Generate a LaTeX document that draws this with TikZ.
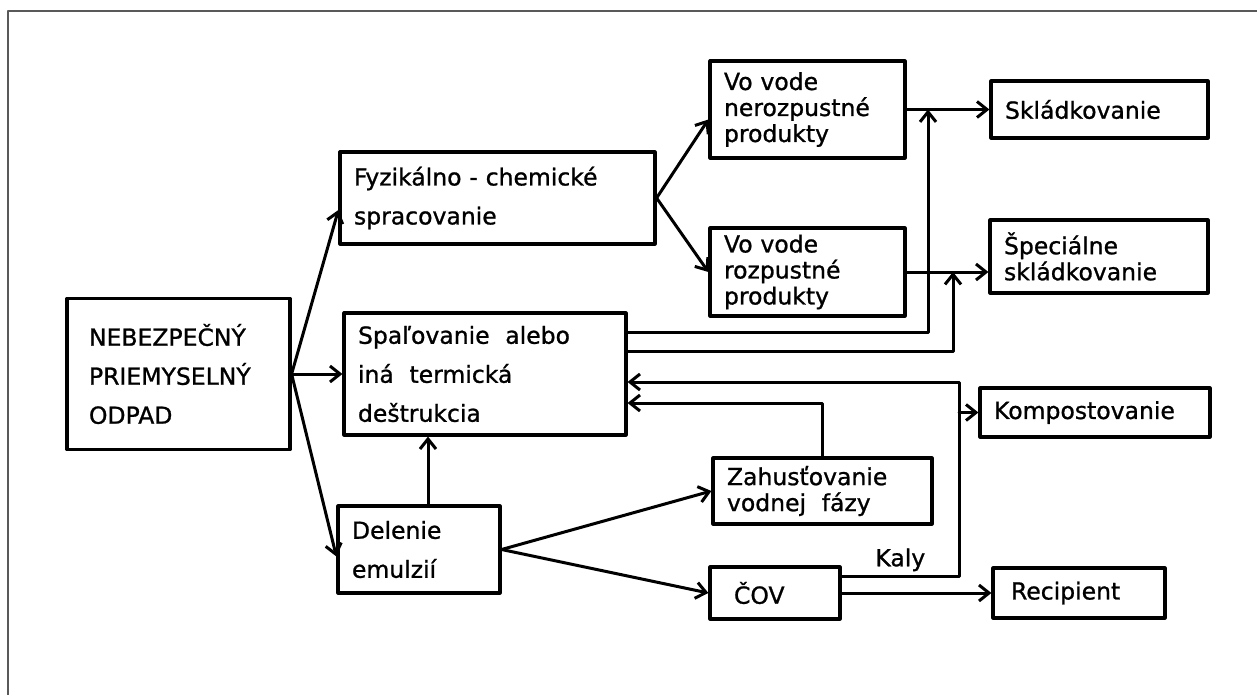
\documentclass[tikz,border=0pt]{standalone}
\usepackage{fontspec}
\setmainfont{DejaVu Sans}[FakeBold=1]
\usetikzlibrary{arrows.meta}

\begin{document}
\begin{tikzpicture}[line cap=round,line join=round,>={Straight Barb[length=10pt,width=16pt]},x=1pt,y=-1pt,
  box/.style={draw,line width=3.2pt,inner xsep=14pt,inner ysep=0pt,align=left},
  wide/.style={font=\fontsize{23.5}{39}\selectfont},
  tight/.style={font=\fontsize{23.5}{26}\selectfont},
  link/.style={line width=3pt}]
\useasboundingbox (0,0) rectangle (1257,695);
\draw [line width=1.2pt,black!65] (8,695)-- (8,11)-- (1257,11);
% boxes
\node [box,wide,inner xsep=22pt,text width=179pt,minimum height=151pt] (odpad) at (178.5,374) {NEBEZPEČNÝ\\PRIEMYSELNÝ\\ODPAD};
\node [box,wide,text width=287pt,minimum height=92pt] (fyz) at (497.5,198) {Fyzikálno - chemické\\spracovanie};
\node [box,wide,text width=254pt,minimum height=122pt] (spal) at (485,374) {Spaľovanie\ \ alebo\\iná\ \ termická\\deštrukcia};
\node [box,wide,text width=134pt,minimum height=87pt] (delenie) at (419,549.5) {Delenie\\emulzií};
\node [box,tight,text width=167pt,minimum height=97pt] (nerozp) at (807.5,109.5) {Vo vode\\nerozpustné\\produkty};
\node [box,tight,text width=167pt,minimum height=88pt] (rozp) at (807.5,272) {Vo vode\\rozpustné\\produkty};
\node [box,tight,text width=189pt,minimum height=57pt] (skladk) at (1099.5,109.5) {Skládkovanie};
\node [box,tight,text width=190pt,minimum height=73pt] (special) at (1099,256.5) {Špeciálne\\skládkovanie};
\node [box,tight,text width=202pt,minimum height=49pt] (kompost) at (1095,412.5) {Kompostovanie};
\node [box,tight,text width=191pt,minimum height=66pt] (zahust) at (822.5,491) {Zahusťovanie\\vodnej\ \ fázy};
\node [box,tight,inner xsep=24pt,text width=82pt,minimum height=52pt] (cov) at (775,593) {ČOV};
\node [box,tight,inner xsep=18pt,text width=136pt,minimum height=50pt] (recip) at (1079,593) {Recipient};
% bends
\coordinate (j1) at (928,109.5);
\coordinate (j2) at (953,272);
\coordinate (bend) at (959,576);
\coordinate (rise) at (959,382);
% arrows
\draw [link,->] (odpad.east)-- ([yshift=-12pt]fyz.west);
\draw [link,->] (odpad.east)-- (spal.west);
\draw [link,->] (odpad.east)-- ([yshift=-7pt]delenie.west);
\draw [link,->] (fyz.east)-- ([yshift=-10pt]nerozp.west);
\draw [link,->] (fyz.east)-- (rozp.west);
\draw [link,->] (nerozp.east)-- (skladk.west);
\draw [link,->] (rozp.east)-- (rozp.east -| special.west);
\draw [link,->] ([yshift=42pt]spal.east) -| (j1);
\draw [link,->] ([yshift=23pt]spal.east) -| (j2);
\draw [link,->] ([yshift=17pt]cov.east)-- node [above,tight] (kaly) {Kaly} (bend)-- (rise)-- (rise -| spal.east);
\draw [link,->] (rise |- kompost.west)-- (kompost.west);
\draw [link,->] (zahust.north) |- ([yshift=-29pt]spal.east);
\draw [link,->] ([xshift=9pt]delenie.north)-- ([xshift=9pt]delenie.north |- spal.south);
\draw [link,->] (delenie.east)-- (zahust.west);
\draw [link,->] (delenie.east)-- (cov.west);
\draw [link,->] (cov.east)-- (recip.west);
\end{tikzpicture}
\end{document}
